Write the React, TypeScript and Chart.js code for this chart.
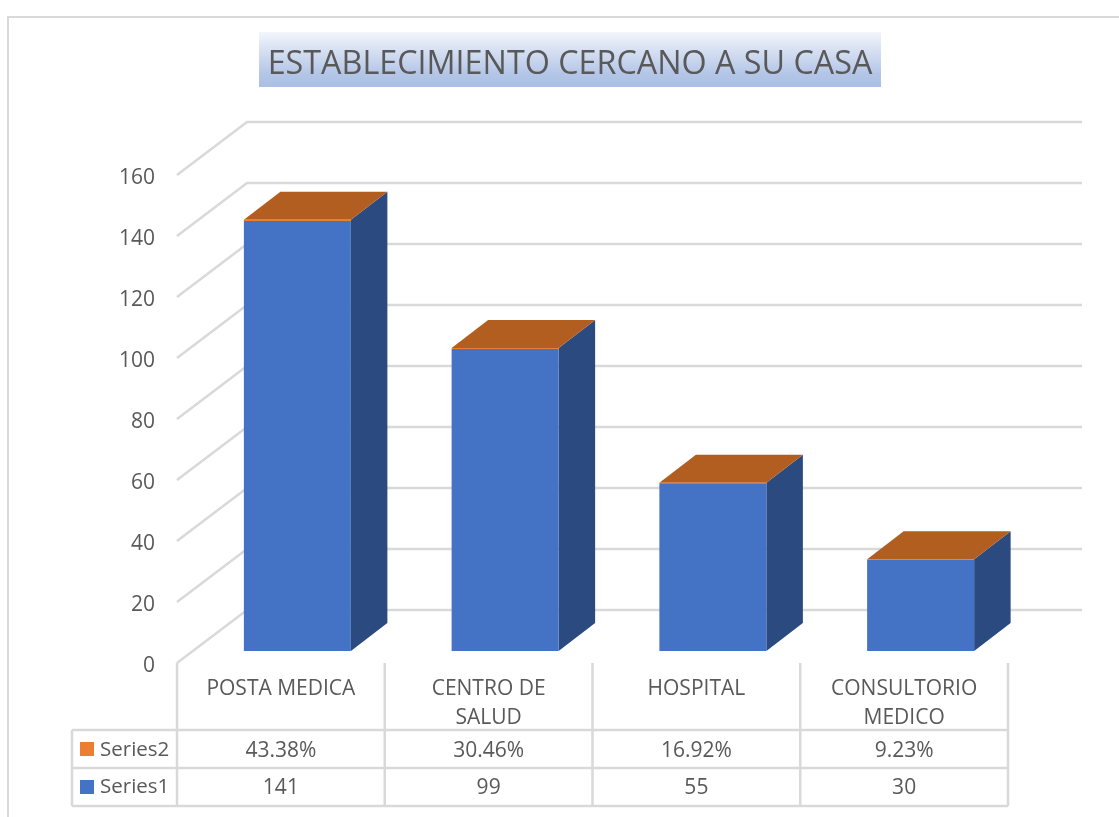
import React, { useEffect, useRef } from "react";
import { Chart, registerables } from "chart.js";

Chart.register(...registerables);

const categories: (string | string[])[] = ["POSTA MEDICA", ["CENTRO DE", "SALUD"], "HOSPITAL", ["CONSULTORIO", "MEDICO"]];
const series1Values = [141, 99, 55, 30];
const series2Values = [0.4338, 0.3046, 0.1692, 0.0923];
const series2Labels = ["43.38%", "30.46%", "16.92%", "9.23%"];
const titleText = "ESTABLECIMIENTO CERCANO A SU CASA";
const tickValues = [0, 20, 40, 60, 80, 100, 120, 140, 160];

const FONT = '"Open Sans", sans-serif';
const TEXT = "#595959";
const LINE = "#d9d9d9";
const BLUE = "#4472c4";
const ORANGE = "#ed7d31";
const SIDE = "#2a4a80";
const TOP = "#b35e21";

const threeD = {
  id: "threeD",
  afterLayout(chart: any) {
    // centre the title over the plot rather than the canvas
    chart.titleBlock.left = 21;
    chart.titleBlock.right = 1119;
    // tick label baseline sits a little under the gridline start
    chart.scales.y.getLabelItems().forEach((item: any) => {
      item.textOffset += 3;
    });
  },
  beforeDraw(chart: any) {
    const { ctx } = chart;
    ctx.save();
    ctx.strokeStyle = LINE;
    ctx.lineWidth = 2;
    ctx.beginPath();
    ctx.moveTo(8, 817);
    ctx.lineTo(8, 17);
    ctx.lineTo(1119, 17);
    ctx.stroke();
    const g = ctx.createLinearGradient(0, 32, 0, 87);
    g.addColorStop(0, "#f2f5fb");
    g.addColorStop(0.75, "#b4c6e7");
    g.addColorStop(1, "#a9bfe4");
    ctx.fillStyle = g;
    ctx.fillRect(259, 32, 622, 55);
    ctx.restore();
  },
  beforeDatasetsDraw(chart: any) {
    const { ctx, scales } = chart;
    const x = scales.x;
    const y = scales.y;
    ctx.save();
    ctx.strokeStyle = LINE;
    ctx.lineWidth = 2.5;
    tickValues.forEach((v) => {
      const py = y.getPixelForValue(v);
      ctx.beginPath();
      ctx.moveTo(x.left, py);
      ctx.lineTo(x.left + 70, py - 53);
      ctx.lineTo(x.right + 74, py - 53);
      ctx.stroke();
    });
    const m1 = chart.getDatasetMeta(0).data;
    const m2 = chart.getDatasetMeta(1).data;
    const ox = 16.5, oy = -12, dx = 36.5, dy = -28;
    m1.forEach((el: any, i: number) => {
      const l = el.x - el.width / 2 + ox;
      const r = el.x + el.width / 2 + ox;
      const t = m2[i].y + oy;
      const b = el.base + oy;
      ctx.fillStyle = SIDE;
      ctx.beginPath();
      ctx.moveTo(r, t);
      ctx.lineTo(r + dx, t + dy);
      ctx.lineTo(r + dx, b + dy);
      ctx.lineTo(r, b);
      ctx.closePath();
      ctx.fill();
      ctx.fillStyle = TOP;
      ctx.beginPath();
      ctx.moveTo(l, t);
      ctx.lineTo(l + dx, t + dy);
      ctx.lineTo(r + dx, t + dy);
      ctx.lineTo(r, t);
      ctx.closePath();
      ctx.fill();
    });
    ctx.restore();
  },
  beforeDatasetDraw(chart: any) {
    chart.ctx.save();
    chart.ctx.translate(16.5, -12);
  },
  afterDatasetDraw(chart: any) {
    chart.ctx.restore();
  },
  afterDraw(chart: any) {
    const { ctx, scales } = chart;
    const x = scales.x;
    const cell = x.width / categories.length;
    const tableLeft = 72;
    const rows = [730, 768, 806];
    ctx.save();
    ctx.strokeStyle = LINE;
    ctx.lineWidth = 2.5;
    for (let i = 0; i <= categories.length; i++) {
      const px = x.left + i * cell;
      ctx.beginPath();
      ctx.moveTo(px, 663);
      ctx.lineTo(px, rows[2]);
      ctx.stroke();
    }
    rows.forEach((ry) => {
      ctx.beginPath();
      ctx.moveTo(tableLeft, ry);
      ctx.lineTo(x.right, ry);
      ctx.stroke();
    });
    ctx.beginPath();
    ctx.moveTo(tableLeft, rows[0]);
    ctx.lineTo(tableLeft, rows[2]);
    ctx.stroke();
    ctx.fillStyle = TEXT;
    ctx.font = `21px ${FONT}`;
    ctx.textBaseline = "middle";
    ctx.textAlign = "center";
    categories.forEach((_, i) => {
      const cx = x.left + (i + 0.5) * cell;
      ctx.fillText(series2Labels[i], cx, 751);
      ctx.fillText(String(series1Values[i]), cx, 788);
    });
    ctx.font = `20.5px ${FONT}`;
    ctx.textAlign = "left";
    ctx.fillText("Series2", 100, 750);
    ctx.fillText("Series1", 100, 787);
    ctx.fillStyle = ORANGE;
    ctx.fillRect(80, 742, 14, 14);
    ctx.fillStyle = BLUE;
    ctx.fillRect(80, 780, 14, 14);
    ctx.restore();
  },
};

export default function App() {
  const ref = useRef<HTMLCanvasElement>(null);
  useEffect(() => {
    const chart = new Chart(ref.current as HTMLCanvasElement, {
      type: "bar",
      data: {
        labels: categories as any,
        datasets: [
          { label: "Series1", data: series1Values, backgroundColor: BLUE, stack: "s" },
          { label: "Series2", data: series2Values, backgroundColor: ORANGE, stack: "s" },
        ],
      },
      options: {
        responsive: false,
        animation: false,
        layout: { padding: { left: 100, right: 111, top: 0, bottom: 0 } },
        datasets: { bar: { categoryPercentage: 1, barPercentage: 107 / 207.75 } },
        plugins: {
          legend: { display: false },
          tooltip: { enabled: false },
          title: {
            display: true,
            text: titleText,
            color: TEXT,
            font: { family: FONT, size: 32.3, weight: "normal", lineHeight: 1.2 },
            padding: { top: 45, bottom: 91.24 },
          },
        },
        scales: {
          x: {
            stacked: true,
            grid: { display: false, drawTicks: false },
            border: { display: false },
            ticks: {
              color: TEXT,
              font: { family: FONT, size: 21, lineHeight: 1.38 },
              padding: 12,
              maxRotation: 0,
              autoSkip: false,
            },
            afterFit(scale: any) { scale.height = 154; },
          },
          y: {
            stacked: true,
            min: 0,
            max: 160,
            grid: { display: false, drawTicks: false },
            border: { display: false },
            ticks: {
              stepSize: 20,
              color: TEXT,
              font: { family: FONT, size: 21 },
              padding: 22,
            },
            afterFit(scale: any) { scale.width = 77; },
          },
        },
      } as any,
      plugins: [threeD],
    });
    return () => chart.destroy();
  }, []);
  return (
    <canvas
      ref={ref}
      width={1119}
      height={817}
      style={{ position: "absolute", left: 0, top: 0, display: "block" }}
    />
  );
}
